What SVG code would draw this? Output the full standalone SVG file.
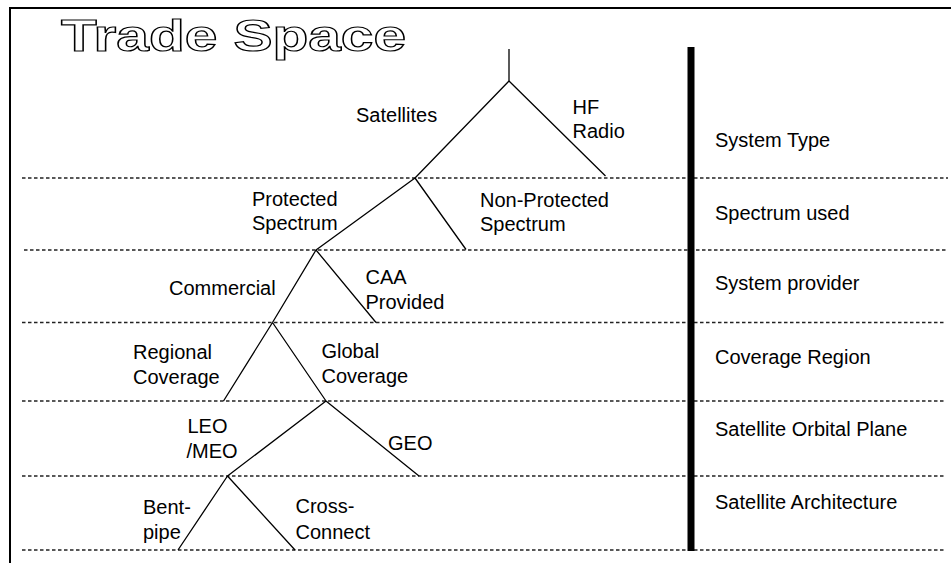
<svg xmlns="http://www.w3.org/2000/svg" width="951" height="563" viewBox="0 0 951 563">
<style>
text{font-family:"Liberation Sans",Arial,sans-serif;font-size:20px;fill:#000}
.title{font-weight:bold;font-size:44px;fill:#fff;stroke:#000;stroke-width:1.2px}
.dash{stroke:#222;stroke-width:1.3;stroke-dasharray:3.5 2.5;fill:none}
.br{stroke:#000;stroke-width:1.3;fill:none}
</style>
<rect width="951" height="563" fill="#fff"/>
<g id="frame"><path d="M10 563V8H951" stroke="#000" stroke-width="2" fill="none"/></g>
<g id="title"><text class="title" x="61" y="51" textLength="345" lengthAdjust="spacingAndGlyphs">Trade Space</text></g>
<g id="levels">
<line class="dash" x1="22" y1="178" x2="948" y2="178"/>
<line class="dash" x1="24" y1="250" x2="946" y2="250"/>
<line class="dash" x1="22" y1="322.5" x2="946" y2="322.5"/>
<line class="dash" x1="22" y1="401" x2="946" y2="401"/>
<line class="dash" x1="22" y1="476" x2="946" y2="476"/>
<line class="dash" x1="22" y1="550" x2="946" y2="550"/>
</g>
<g id="bar"><rect x="687.5" y="47" width="7" height="504" fill="#000"/></g>
<g id="connectors">
<path class="br" d="M509 49V81"/>
<path class="br" d="M509 81L415 178M509 81L605.5 176"/>
<path class="br" d="M415 178L316 250M415 178L466 249.5"/>
<path class="br" d="M316 250L272.5 322.5M316 250L376 322.5"/>
<path class="br" d="M272.5 322.5L223.5 401M272.5 322.5L326 401"/>
<path class="br" d="M326 401L227.5 476M326 401L419 476"/>
<path class="br" d="M227.5 476L178 550M227.5 476L295 550"/>
</g>
<g id="n-satellites"><text x="356" y="121.5">Satellites</text></g>
<g id="n-hf"><text x="572.5" y="114">HF</text><text x="572.5" y="138">Radio</text></g>
<g id="n-protected"><text x="252" y="205.5">Protected</text><text x="252" y="230">Spectrum</text></g>
<g id="n-nonprotected"><text x="480" y="206.5">Non-Protected</text><text x="480" y="231">Spectrum</text></g>
<g id="n-commercial"><text x="169" y="295">Commercial</text></g>
<g id="n-caa"><text x="365.5" y="283.5">CAA</text><text x="365.5" y="308.5">Provided</text></g>
<g id="n-regional"><text x="133" y="359">Regional</text><text x="133" y="383.5">Coverage</text></g>
<g id="n-global"><text x="321.5" y="357.5">Global</text><text x="321.5" y="382.5">Coverage</text></g>
<g id="n-leo"><text x="187.5" y="433">LEO</text><text x="186.5" y="457.5">/MEO</text></g>
<g id="n-geo"><text x="388" y="450">GEO</text></g>
<g id="n-bent"><text x="143" y="514">Bent-</text><text x="143" y="538.5">pipe</text></g>
<g id="n-cross"><text x="295.5" y="513">Cross-</text><text x="295.5" y="538.5">Connect</text></g>
<g id="legend">
<text x="715" y="147">System Type</text>
<text x="715" y="220">Spectrum used</text>
<text x="715" y="290">System provider</text>
<text x="715" y="363.5">Coverage Region</text>
<text x="715" y="436">Satellite Orbital Plane</text>
<text x="715" y="509">Satellite Architecture</text>
</g>
</svg>
